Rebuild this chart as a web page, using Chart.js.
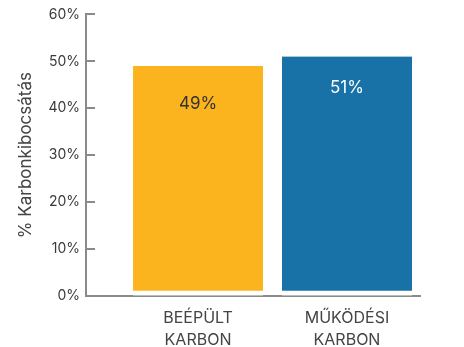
<!DOCTYPE html>
<html><head><meta charset="utf-8">
<script src="https://cdn.jsdelivr.net/npm/chart.js@4"></script>
<style>html,body{margin:0;padding:0;background:#fff}#w{width:464px;height:347px;position:relative}</style>
</head><body><div id="w"><canvas id="c"></canvas></div>
<script>
const categories = [["BEÉPÜLT","KARBON"],["MŰKÖDÉSI","KARBON"]];
const values = [49, 51];
const valueLabels = ["49%","51%"];
const barColors = ["#FBB41E","#1872A8"];
const labelColors = ["#333333","#ffffff"];
const yTicks = [0,10,20,30,40,50,60];
const FONT = "Inter, 'Open Sans', sans-serif";

const valueLabelPlugin = {
  id: 'valueLabels',
  afterDatasetsDraw(chart, args, opts) {
    const ctx = chart.ctx;
    const meta = chart.getDatasetMeta(0);
    ctx.save();
    ctx.font = "17px " + FONT;
    ctx.textAlign = 'center';
    ctx.textBaseline = 'middle';
    meta.data.forEach((bar, i) => {
      ctx.fillStyle = labelColors[i];
      ctx.fillText(valueLabels[i], bar.x, bar.y + opts.offsets[i]);
    });
    ctx.restore();
  }
};

// tick marks on the inner side of the y axis
const innerTicksPlugin = {
  id: 'innerTicks',
  afterDraw(chart, args, opts) {
    const ctx = chart.ctx;
    const y = chart.scales.y;
    const x0 = chart.chartArea.left;
    ctx.save();
    ctx.strokeStyle = opts.color;
    ctx.lineWidth = opts.width;
    y.ticks.forEach(t => {
      const py = Math.round(y.getPixelForValue(t.value));
      ctx.beginPath();
      ctx.moveTo(x0, py);
      ctx.lineTo(x0 + opts.length, py);
      ctx.stroke();
    });
    ctx.restore();
  }
};

new Chart(document.getElementById('c'), {
  type: 'bar',
  data: {
    datasets: [{
      data: values.map((v, i) => ({x: i, y: v})),
      backgroundColor: barColors,
      borderColor: '#ffffff',
      borderWidth: {top: 0, left: 0, right: 0, bottom: 5},
      borderSkipped: false,
      barThickness: 130
    }]
  },
  options: {
    responsive: true,
    maintainAspectRatio: false,
    animation: false,
    layout: {padding: {left: 16, right: 44, top: 0, bottom: -16}},
    plugins: {
      legend: {display: false},
      tooltip: {enabled: false},
      valueLabels: {offsets: [38, 31]},
      innerTicks: {color: '#8a8a8a', width: 2, length: 9}
    },
    scales: {
      x: {
        type: 'linear',
        offset: false,
        min: -0.752,
        max: 1.49,
        afterBuildTicks: (s) => { s.ticks = categories.map((c, i) => ({value: i})); },
        ticks: {
          callback: (v) => categories[v],
          color: '#444',
          font: {family: FONT, size: 16, lineHeight: 1.35},
          padding: 12,
          maxRotation: 0,
          autoSkip: false
        },
        grid: {display: false, drawTicks: false, offset: false},
        border: {display: true, color: '#8a8a8a', width: 2}
      },
      y: {
        min: 0,
        max: 60,
        afterBuildTicks: (s) => { s.ticks = yTicks.map(v => ({value: v})); },
        ticks: {
          callback: (v) => v + '%',
          color: '#3a3a3a',
          font: {family: FONT, size: 14},
          padding: 6
        },
        grid: {drawOnChartArea: false, drawTicks: false},
        border: {display: true, color: '#8a8a8a', width: 2},
        title: {
          display: true,
          text: '% Karbonkibocsátás',
          color: '#444',
          font: {family: FONT, size: 17},
          padding: {top: 0, bottom: 6}
        }
      }
    }
  },
  plugins: [valueLabelPlugin, innerTicksPlugin]
});
</script>
</body></html>
